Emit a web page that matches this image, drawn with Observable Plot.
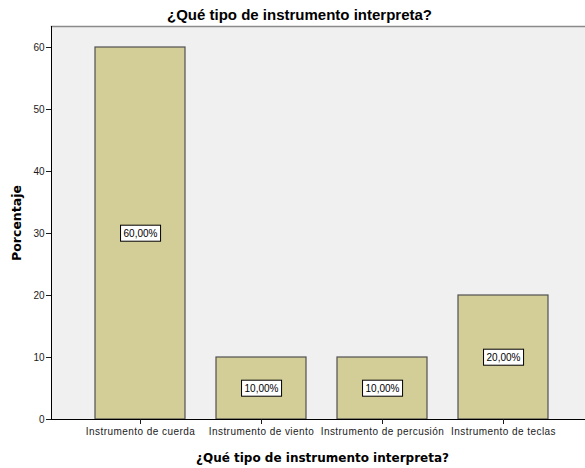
<!DOCTYPE html>
<html><head><meta charset="utf-8">
<script src="https://cdn.jsdelivr.net/npm/d3@7"></script>
<script src="https://cdn.jsdelivr.net/npm/@observablehq/plot@0.6"></script>
<style>
body{margin:0;background:#fff}
g[aria-label="x-axis tick label"] text{letter-spacing:0.45px}
</style>
</head><body><div id="chart"></div>
<script>
const categories = ["Instrumento de cuerda", "Instrumento de viento", "Instrumento de percusión", "Instrumento de teclas"];
const percentages = [60, 10, 10, 20];
const valueLabels = ["60,00%", "10,00%", "10,00%", "20,00%"];
const yTicks = [0, 10, 20, 30, 40, 50, 60];
const chartTitle = "¿Qué tipo de instrumento interpreta?";
const xTitle = "¿Qué tipo de instrumento interpreta?";
const yTitle = "Porcentaje";

const data = categories.map((c, i) => ({category: c, pct: percentages[i], label: valueLabels[i]}));

const chart = Plot.plot({
  width: 585, height: 468,
  marginTop: 26, marginRight: 0, marginBottom: 49, marginLeft: 51,
  style: {fontFamily: "'Liberation Sans', Arial, sans-serif", fontSize: "10px", color: "#1a1a1a", background: "#fff"},
  x: {domain: categories, range: [93, 550], paddingInner: 0.254, paddingOuter: 0},
  y: {domain: [0, 60], range: [419, 47]},
  marks: [
    Plot.frame({fill: "#F0F0F0", stroke: null}),
    Plot.frame({anchor: "top", stroke: "#8a8a8a", strokeWidth: 1.5}),
    Plot.barY(data, {x: "category", y: "pct", fill: "#D3CE97", stroke: "#505050", strokeWidth: 1.2}),
    Plot.frame({anchor: "left", stroke: "#000"}),
    Plot.ruleY([0], {stroke: "#000"}),
    Plot.axisY({ticks: yTicks, tickSize: 5, tickPadding: 2, tickFormat: d => `${d}`, label: null, fontSize: 10}),
    Plot.axisX({tickSize: 5, tickPadding: 3, label: null, fontSize: 10}),
    Plot.text(data, {x: "category", y: d => d.pct / 2, text: "label", fontSize: 10, fill: "#000"}),
    Plot.text([chartTitle], {frameAnchor: "top", dy: -7, dx: -19, lineAnchor: "bottom", fontSize: 15, fontWeight: "bold", fill: "#000"}),
    Plot.text([xTitle], {frameAnchor: "bottom", dy: 42, dx: 4, lineAnchor: "bottom", fontSize: 12, fontWeight: "bold", fontFamily: "'DejaVu Sans', sans-serif", fill: "#000"}),
    Plot.text([yTitle], {frameAnchor: "left", textAnchor: "middle", rotate: -90, dx: -35, fontSize: 12.5, fontWeight: "bold", fontFamily: "'DejaVu Sans', sans-serif", fill: "#000"})
  ]
});
document.getElementById("chart").appendChild(chart);

// white boxes with black borders behind the value labels
const ns = "http://www.w3.org/2000/svg";
Array.from(chart.querySelectorAll("text"))
  .filter(t => valueLabels.includes(t.textContent))
  .forEach(t => {
    const b = t.getBBox();
    const r = document.createElementNS(ns, "rect");
    r.setAttribute("x", b.x - 3);
    r.setAttribute("y", b.y - 2.5);
    r.setAttribute("width", b.width + 6);
    r.setAttribute("height", b.height + 5);
    r.setAttribute("fill", "#fff");
    r.setAttribute("stroke", "#000");
    r.setAttribute("stroke-width", 1);
    if (t.getAttribute("transform")) r.setAttribute("transform", t.getAttribute("transform"));
    t.parentNode.insertBefore(r, t);
  });
</script>
</body></html>
